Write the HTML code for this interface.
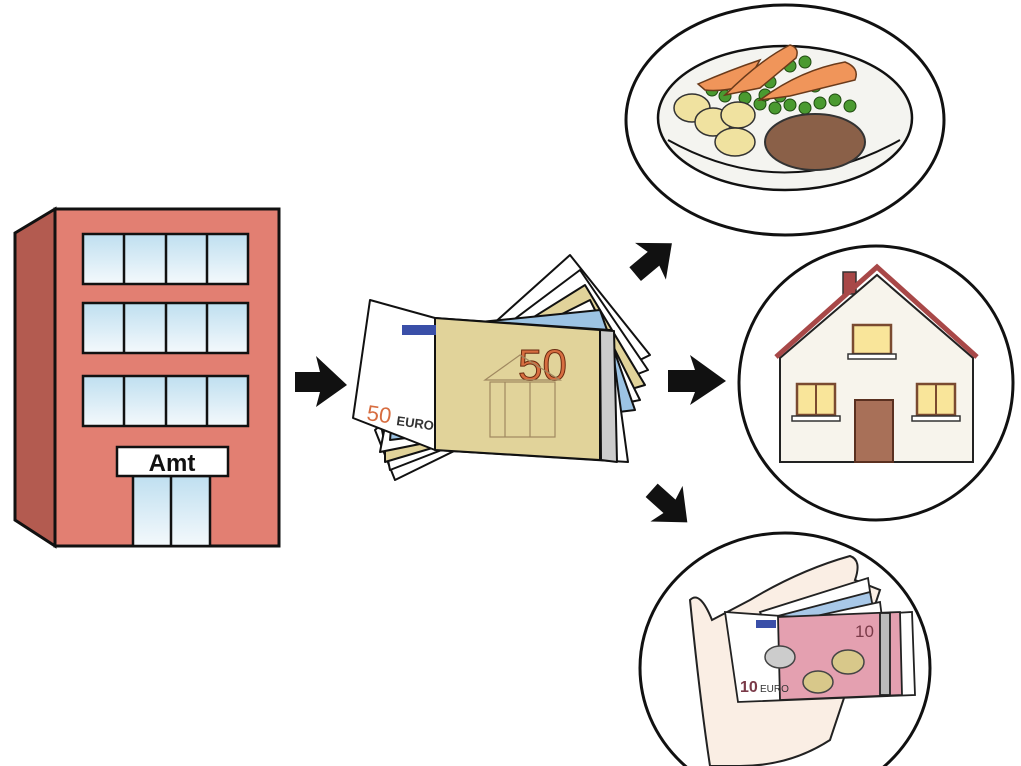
<!DOCTYPE html>
<html><head><meta charset="utf-8"><style>html,body{margin:0;padding:0;background:#fff}svg{display:block}</style></head><body>
<svg width="1021" height="766" viewBox="0 0 1021 766" xmlns="http://www.w3.org/2000/svg" font-family="Liberation Sans, sans-serif">
<defs><linearGradient id="gl" x1="0" y1="0" x2="0" y2="1"><stop offset="0" stop-color="#bfdff0"/><stop offset="1" stop-color="#f4f9fc"/></linearGradient></defs>
<polygon points="15,233 55,209 55,546 15,520" fill="#b35b50" stroke="#111" stroke-width="3"/>
<rect x="55" y="209" width="224" height="337" fill="#e27f72" stroke="#111" stroke-width="3"/>
<g stroke="#111" stroke-width="2.5" fill="url(#gl)">
<rect x="83" y="234" width="165" height="50"/><rect x="83" y="303" width="165" height="50"/><rect x="83" y="376" width="165" height="50"/>
</g>
<g stroke="#111" stroke-width="2.5">
<line x1="124" y1="234" x2="124" y2="284"/><line x1="166" y1="234" x2="166" y2="284"/><line x1="207" y1="234" x2="207" y2="284"/>
<line x1="124" y1="303" x2="124" y2="353"/><line x1="166" y1="303" x2="166" y2="353"/><line x1="207" y1="303" x2="207" y2="353"/>
<line x1="124" y1="376" x2="124" y2="426"/><line x1="166" y1="376" x2="166" y2="426"/><line x1="207" y1="376" x2="207" y2="426"/>
</g>
<rect x="133" y="476" width="77" height="70" fill="url(#gl)" stroke="#111" stroke-width="2.5"/>
<line x1="171" y1="476" x2="171" y2="546" stroke="#111" stroke-width="2.5"/>
<rect x="117" y="447" width="111" height="29" fill="#fff" stroke="#111" stroke-width="2.5"/>
<text x="172" y="471" font-size="24" font-weight="bold" text-anchor="middle" fill="#111">Amt</text>
<g fill="#111">
<polygon points="295,372 320,372 316,356 347,385 316,407 320,392 295,392"/>
<g transform="translate(652,260) rotate(-40)"><polygon points="-22,-9 2,-9 -2,-24 26,0 -2,24 2,9 -22,9"/></g>
<polygon points="668,370 695,370 690,355 726,381 690,405 695,392 668,392"/>
<g transform="translate(668,505) rotate(42)"><polygon points="-22,-9 2,-9 -2,-24 26,0 -2,24 2,9 -22,9"/></g>
</g>
<g stroke="#111" stroke-width="2" stroke-linejoin="round">
<polygon points="375,430 570,255 650,355 395,480" fill="#fff"/>
<polygon points="380,420 580,270 648,370 390,470" fill="#fff"/>
<polygon points="385,410 585,285 645,385 385,462" fill="#e1d39a"/>
<polygon points="390,400 590,300 640,400 380,452" fill="#fff"/>
<polygon points="400,330 600,310 635,410 390,440" fill="#9cc3e3"/>
<polygon points="370,300 435,318 610,330 628,462 435,450 353,418" fill="#fff"/>
<polygon points="435,318 600,330 600,460 435,450" fill="#e1d39a"/>
<polygon points="600,330 614,331 617,462 601,460" fill="#ccc"/>
</g>
<rect x="402" y="325" width="34" height="10" fill="#3a4fa8"/>
<text x="518" y="380" font-size="44" fill="#d76d40" stroke="#6a2a10" stroke-width="1">50</text>
<text x="366" y="420" font-size="22" fill="#d76d40" transform="rotate(8 366 420)">50</text>
<text x="396" y="425" font-size="13" font-weight="bold" fill="#333" transform="rotate(8 396 425)">EURO</text>
<g stroke="#a08860" stroke-width="1.2" fill="none"><polygon points="485,380 520,355 560,380"/><rect x="490" y="382" width="65" height="55"/><line x1="505" y1="382" x2="505" y2="437"/><line x1="530" y1="382" x2="530" y2="437"/></g>
<ellipse cx="785" cy="120" rx="159" ry="115" fill="#fff" stroke="#111" stroke-width="3"/>
<ellipse cx="785" cy="118" rx="127" ry="72" fill="#f4f4f0" stroke="#111" stroke-width="2.5"/>
<path d="M668,140 Q785,205 900,140" fill="none" stroke="#111" stroke-width="2"/>
<g fill="#4a9a30" stroke="#1f4a10" stroke-width="1">
<circle cx="712" cy="90" r="6"/><circle cx="725" cy="96" r="6"/><circle cx="745" cy="98" r="6"/><circle cx="760" cy="104" r="6"/><circle cx="775" cy="108" r="6"/><circle cx="790" cy="105" r="6"/><circle cx="805" cy="108" r="6"/><circle cx="820" cy="103" r="6"/><circle cx="835" cy="100" r="6"/><circle cx="850" cy="106" r="6"/><circle cx="790" cy="66" r="6"/><circle cx="805" cy="62" r="6"/><circle cx="770" cy="82" r="6"/><circle cx="795" cy="88" r="6"/><circle cx="815" cy="86" r="6"/><circle cx="780" cy="96" r="6"/><circle cx="765" cy="95" r="6"/><circle cx="740" cy="86" r="6"/>
</g>
<g stroke="#6a3a1a" stroke-width="1.5" fill="#f0955a">
<path d="M698,84 Q730,70 760,60 L745,86 Q720,92 705,90 Z"/>
<path d="M725,95 Q760,60 790,45 Q800,48 796,58 L760,88 Z"/>
<path d="M760,100 Q800,70 845,62 Q860,68 855,80 L790,96 Z"/>
</g>
<g fill="#f0e2a0" stroke="#333" stroke-width="1.5">
<ellipse cx="692" cy="108" rx="18" ry="14"/><ellipse cx="713" cy="122" rx="18" ry="14"/><ellipse cx="738" cy="115" rx="17" ry="13"/><ellipse cx="735" cy="142" rx="20" ry="14"/>
</g>
<ellipse cx="815" cy="142" rx="50" ry="28" fill="#8a6048" stroke="#333" stroke-width="2"/>
<circle cx="876" cy="383" r="137" fill="#fff" stroke="#111" stroke-width="3"/>
<rect x="843" y="272" width="13" height="22" fill="#a84848" stroke="#333" stroke-width="1.5"/>
<polygon points="780,358 877,275 973,358 973,462 780,462" fill="#f7f4ec" stroke="#222" stroke-width="2"/>
<polyline points="776,357 877,267 977,357" fill="none" stroke="#a84848" stroke-width="5"/>
<g fill="#f9e59a" stroke="#7a4a30" stroke-width="2.5">
<rect x="853" y="325" width="38" height="29"/><rect x="797" y="384" width="38" height="31"/><rect x="917" y="384" width="38" height="31"/>
</g>
<g stroke="#333" stroke-width="1.5" fill="#fff"><rect x="848" y="354" width="48" height="5"/><rect x="792" y="416" width="48" height="5"/><rect x="912" y="416" width="48" height="5"/></g>
<line x1="816" y1="384" x2="816" y2="415" stroke="#7a4a30" stroke-width="2"/><line x1="936" y1="384" x2="936" y2="415" stroke="#7a4a30" stroke-width="2"/>
<rect x="855" y="400" width="38" height="62" fill="#a87058" stroke="#5a3020" stroke-width="2"/>
<ellipse cx="785" cy="668" rx="145" ry="135" fill="#fff" stroke="#111" stroke-width="3"/>
<path d="M690,600 Q700,590 712,620 L750,600 Q800,570 850,556 Q862,560 855,580 L880,590 L830,740 Q790,766 740,766 L710,766 Q700,700 690,600 Z" fill="#faeee4" stroke="#222" stroke-width="2"/>
<g stroke="#222" stroke-width="1.8">
<polygon points="760,612 868,578 880,660 790,680" fill="#fff"/>
<polygon points="770,618 870,592 885,670 790,685" fill="#a8c8e8"/>
<polygon points="775,625 880,602 890,680 790,690" fill="#fff"/>
<polygon points="725,612 810,618 912,612 915,695 738,702" fill="#fff"/>
<polygon points="778,617 900,612 902,695 780,700" fill="#e4a0b0"/>
<rect x="880" y="613" width="10" height="82" fill="#bbb"/>
</g>
<rect x="756" y="620" width="20" height="8" fill="#3a4fa8"/>
<text x="855" y="637" font-size="17" fill="#7a3a48">10</text>
<text x="740" y="692" font-size="16" font-weight="bold" fill="#7a3a48">10</text>
<text x="760" y="692" font-size="10" fill="#333">EURO</text>
<g stroke="#444" stroke-width="1.5" fill="#d8c88a"><ellipse cx="780" cy="657" rx="15" ry="11" fill="#ccc"/><ellipse cx="848" cy="662" rx="16" ry="12"/><ellipse cx="818" cy="682" rx="15" ry="11"/></g>
</svg>
</body></html>
